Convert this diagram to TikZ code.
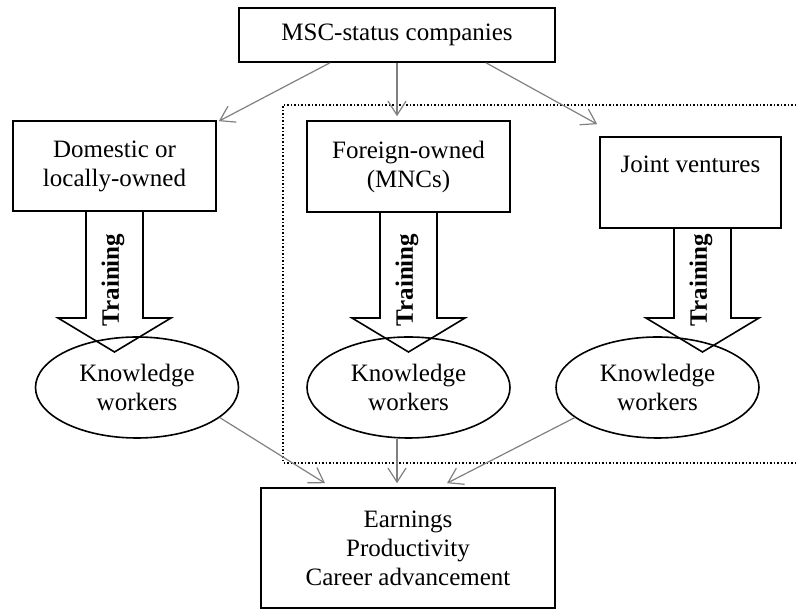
\documentclass[tikz,border=0pt]{standalone}
\usepackage{fontspec}
\setmainfont{Liberation Serif}
\usetikzlibrary{shapes.geometric, arrows.meta, calc}

\tikzset{
  txt/.style={font=\fontsize{25}{29}\selectfont},
  firmbox/.style={txt, draw, line width=1.6pt, align=center, inner sep=0pt},
  kwell/.style={txt, draw, ellipse, line width=1.6pt, align=center, inner sep=0pt,
    minimum width=203pt, minimum height=101pt},
  link/.style={draw=gray, line width=1.2pt, -{Straight Barb[length=14pt,width=18pt]}},
  blockarrow/.style={draw, line width=1.6pt, line join=miter},
  train/.style={txt, font=\fontsize{25}{29}\selectfont\bfseries, rotate=90, inner sep=0pt},
  frame/.style={line width=1.5pt, dash pattern=on 1.5pt off 2pt}
}

\begin{document}
\begin{tikzpicture}[x=1pt, y=1pt]
  \useasboundingbox (0,0) rectangle (796,610);

  % dotted frame round the foreign-owned and joint-venture firms
  \draw[frame] (796,505) -- (283,505) -- (283,147) -- (796,147);

  \node[firmbox, minimum width=316pt, minimum height=54pt] (top) at (397,575) {MSC-status companies};
  \node[firmbox, minimum width=203pt, minimum height=90pt] (dom) at (114.5,444) {Domestic or\\locally-owned};
  \node[firmbox, minimum width=203pt, minimum height=91pt] (mnc) at (408.5,443.5) {Foreign-owned\\(MNCs)};
  \node[firmbox, minimum width=181pt, minimum height=91pt] (jv) at (690.5,427.5) {Joint ventures\\[8pt]\mbox{}};

  % training arrows
  \foreach \b/\off in {dom/0, mnc/0, jv/12}{
    \coordinate (\b-l) at ($(\b.south)+(\off-28.5,0)$);
    \coordinate (\b-r) at ($(\b.south)+(\off+28.5,0)$);
    \coordinate (\b-c) at ($(\b.south)+(\off,0)$);
    \draw[blockarrow] (\b-l) -- (\b-l |- 0,292) -- ++(-28,0) -- (\b-c |- 0,258)
      -- ($(\b-r |- 0,292)+(28,0)$) -- (\b-r |- 0,292) -- (\b-r);
    \node[train] (\b-tr) at ($(\b-c |- 0,330)+(-1.5,0)$) {Training};
  }

  \node[kwell] (kw1) at (137,222.5) {Knowledge\\workers};
  \node[kwell] (kw2) at (408.5,222.5) {Knowledge\\workers};
  \node[kwell] (kw3) at (657.5,222.5) {Knowledge\\workers};

  \node[firmbox, minimum width=294pt, minimum height=120pt] (out) at (408,62)
    {Earnings\\Productivity\\Career advancement};

  % gray links
  \draw[link] ($(top.south)+(-67,0)$) -- ($(dom.north east)+(2,-1)$);
  \draw[link, shorten >=4pt] (top.south) -- (top.south |- mnc.north);
  \draw[link] ($(top.south)+(89,0)$) -- ($(jv.north west)+(-2,12)$);
  \draw[link] (kw1.-20) -- ($(out.north)+(-83,4)$);
  \draw[link] (kw2.south -| top.south) -- ($(out.north -| top.south)+(0,4)$);
  \draw[link] (kw3.200) -- ($(out.north)+(39,4)$);
\end{tikzpicture}
\end{document}
